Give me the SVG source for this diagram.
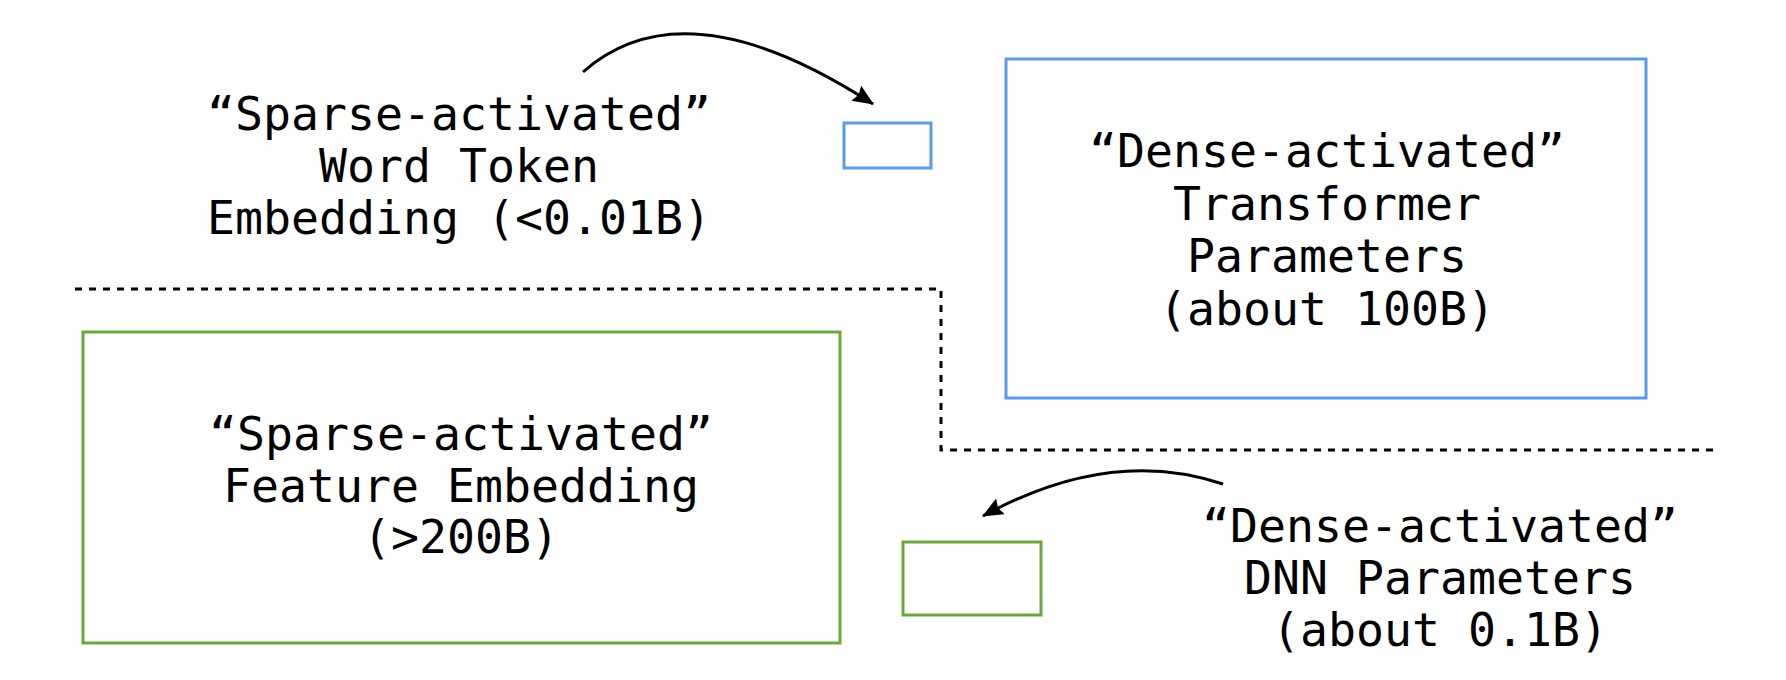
<svg xmlns="http://www.w3.org/2000/svg" width="1786" height="680" viewBox="0 0 1786 680">
  <style>
    .lbl { font-family: "DejaVu Sans Mono", "Liberation Mono", monospace; font-size: 46.5px; fill: #000; text-anchor: middle; }
    .blue { fill: none; stroke: #5a9bec; stroke-width: 3; }
    .green { fill: none; stroke: #6aa73c; stroke-width: 3; }
    .arrow { fill: none; stroke: #000; stroke-width: 3; marker-end: url(#ah); }
    .divider { fill: none; stroke: #000; stroke-width: 3; stroke-dasharray: 7 7; }
  </style>
  <defs>
    <marker id="ah" markerUnits="userSpaceOnUse" markerWidth="24" markerHeight="20" refX="20" refY="9" orient="auto">
      <path d="M0,0 L21,9 L0,18 L3,9 z" fill="#000"/>
    </marker>
  </defs>
  <rect width="1786" height="680" fill="#fff"/>

  <g id="connectors">
    <path class="divider" d="M75,289 H941 V450 H1714"/>
    <path class="arrow" d="M583,72 Q685,-18 873,104"/>
    <path class="arrow" d="M1223,484 Q1110,446 983,516"/>
  </g>

  <g id="word-token-label">
    <text class="lbl" x="459" y="130">“Sparse-activated”</text>
    <text class="lbl" x="459" y="182">Word Token</text>
    <text class="lbl" x="459" y="234">Embedding (&lt;0.01B)</text>
  </g>

  <g id="word-token-box">
    <rect class="blue" x="844" y="123" width="87" height="45"/>
  </g>

  <g id="transformer-params">
    <rect class="blue" x="1006" y="59" width="640" height="339"/>
    <text class="lbl" x="1327" y="167">“Dense-activated”</text>
    <text class="lbl" x="1327" y="219.5">Transformer</text>
    <text class="lbl" x="1327" y="272">Parameters</text>
    <text class="lbl" x="1327" y="324.5">(about 100B)</text>
  </g>

  <g id="feature-embedding">
    <rect class="green" x="83" y="332" width="757" height="311"/>
    <text class="lbl" x="461" y="450">“Sparse-activated”</text>
    <text class="lbl" x="461" y="502">Feature Embedding</text>
    <text class="lbl" x="461" y="553">(&gt;200B)</text>
  </g>

  <g id="dnn-box">
    <rect class="green" x="903" y="542" width="138" height="73"/>
  </g>

  <g id="dnn-label">
    <text class="lbl" x="1440" y="541.5">“Dense-activated”</text>
    <text class="lbl" x="1440" y="593.5">DNN Parameters</text>
    <text class="lbl" x="1440" y="646">(about 0.1B)</text>
  </g>
</svg>
